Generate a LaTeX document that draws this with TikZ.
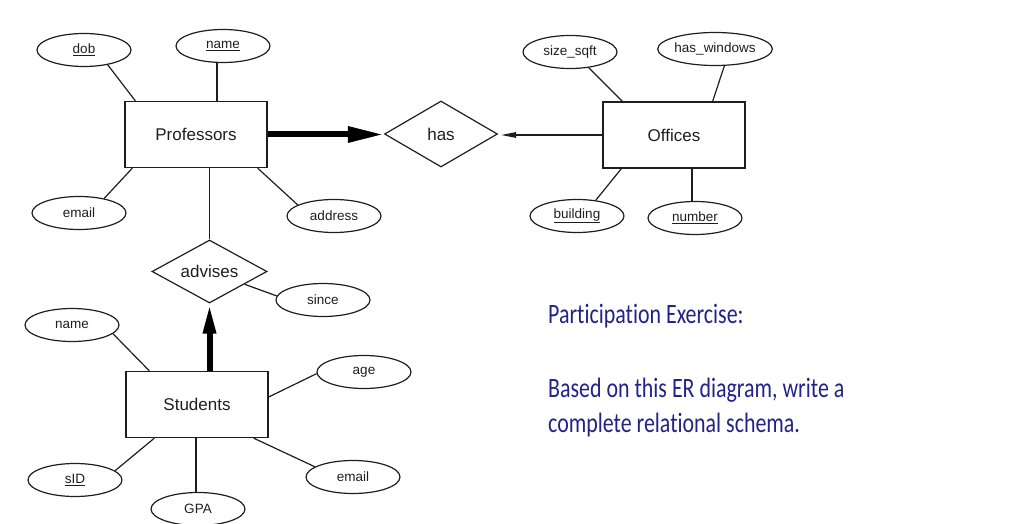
\documentclass[tikz,border=0pt]{standalone}
\usepackage{fontspec}
\setmainfont{Liberation Sans}
\newfontfamily\blfont[RawFeature={-liga;-clig;-calt;-dlig}]{Carlito}
\usetikzlibrary{shapes.geometric,arrows.meta}
\definecolor{txtblue}{RGB}{35,35,135}
\definecolor{ink}{RGB}{30,30,30}
\begin{document}
\begin{tikzpicture}[x=1pt,y=-1pt,
  entity/.style={draw=ink,line width=1.3pt,minimum width=142pt,minimum height=66pt,inner sep=0pt,font=\fontsize{17}{20}\selectfont,text=ink},
  attr/.style={ellipse,draw=ink,line width=1.2pt,minimum width=94pt,minimum height=33pt,inner sep=0pt,font=\fontsize{13.5}{16}\selectfont,text=ink},
  rel/.style={diamond,aspect=2,draw=ink,line width=1.2pt,inner sep=0pt,font=\fontsize{17}{20}\selectfont,text=ink},
  conn/.style={draw=ink,line width=1.2pt},
  heavy/.style={draw=black,line width=6pt},
  bluetext/.style={inner sep=0pt,anchor=base west,text=txtblue,font=\blfont\fontsize{28}{34}\selectfont}
]
\useasboundingbox (0,0) rectangle (1010,524);

% entities and relationships
\node[entity] (prof) at (196,134.5) {Professors};
\node[entity] (off) at (674,135) {Offices};
\node[entity] (stu) at (197,404.5) {Students};
\node[rel,minimum width=113pt,minimum height=66pt] (has) at (441,134) {has};
\node[rel,minimum width=115pt,minimum height=63pt] (adv) at (209.5,271.5) {advises};

% attributes
\node[attr] (dob) at (84,50) {\underline{dob}};
\node[attr] (pname) at (223,46) {\underline{name}};
\node[attr] (pemail) at (79,213) {email};
\node[attr] (addr) at (334,216) {address};
\node[attr] (ss) at (570,52) {size\_sqft};
\node[attr] (hw) at (715,49) {has\_windows};
\node[attr] (bld) at (577,216) {\underline{building}};
\node[attr] (num) at (695,218) {\underline{number}};
\node[attr] (since) at (323,300) {since};
\node[attr] (sname) at (72,325) {name};
\node[attr] (age) at (364,372) {age};
\node[attr] (sid) at (75,480) {\underline{sID}};
\node[attr] (gpa) at (198,509) {GPA};
\node[attr] (semail) at (353,477) {email};

% professor attribute links
\draw[conn] (dob.-32) -- ([xshift=11pt]prof.north west);
\draw[conn] ([xshift=21pt]prof.north) -- ([xshift=21pt]prof.north |- pname.south);
\draw[conn] (pemail.30) -- ([xshift=8pt]prof.south west);
\draw[conn] (addr.163) -- ([xshift=-10pt]prof.south east);

% office attribute links
\draw[conn] (ss.-40) -- ([xshift=20pt]off.north west);
\draw[conn] (hw.-61) -- ([xshift=-33pt]off.north east);
\draw[conn] (bld.40) -- ([xshift=19pt]off.south west);
\draw[conn] ([xshift=18pt]off.south) -- ([xshift=18pt]off.south |- num.north);

% relationships
\draw[heavy,-{Triangle[length=36pt,width=15pt]}] (prof.east) -- (prof.east -| has.west);
\draw[conn,-{Triangle[length=15pt,width=5.5pt]},shorten >=3pt] (off.west) -- (off.west -| has.east);
\draw[conn] (adv.north) -- (adv.north |- prof.south);
\draw[heavy,-{Triangle[length=30pt,width=12pt]}] (adv.south |- stu.north) -- (adv.south);
\draw[conn] (adv) -- (since.175);

% student attribute links
\draw[conn] (sname.-12) -- ([xshift=24pt]stu.north west);
\draw[conn] (age.182) -- ([yshift=7.5pt]stu.east);
\draw[conn] (sid.13) -- ([xshift=29pt]stu.south west);
\draw[conn] ([xshift=-1pt]stu.south) -- ([xshift=-1pt]stu.south |- gpa.north);
\draw[conn] (semail.165) -- ([xshift=-15pt]stu.south east);

% exercise text
\node[bluetext] (t1) at (548,323) {\scalebox{0.783}[1]{Participation Exercise:}};
\node[bluetext] (t2) at (548,397) {\scalebox{0.783}[1]{Based on this ER diagram, write a}};
\node[bluetext] (t3) at (548,432) {\scalebox{0.783}[1]{complete relational schema.}};
\end{tikzpicture}
\end{document}
